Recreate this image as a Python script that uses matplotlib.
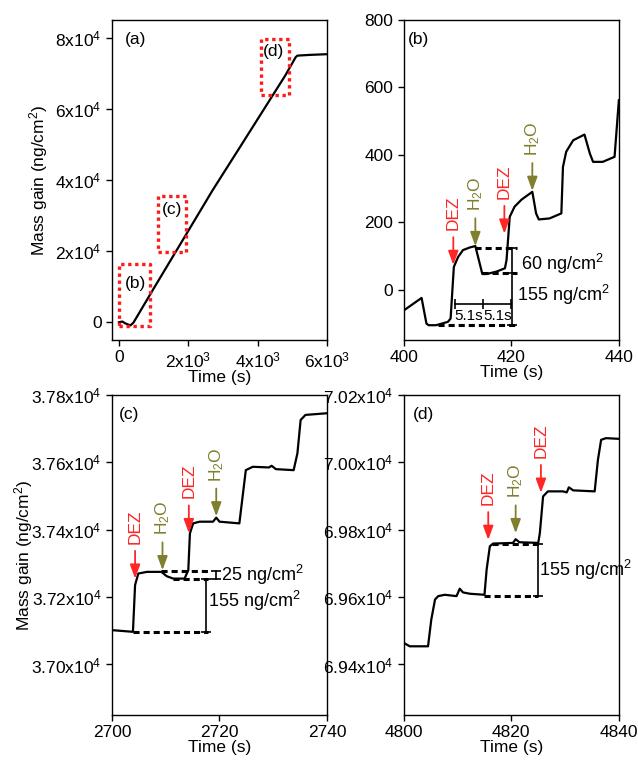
import numpy as np
import matplotlib.pyplot as plt

plt.rcParams['font.family'] = ['Liberation Sans', 'DejaVu Sans']
plt.rcParams['mathtext.fontset'] = 'custom'
plt.rcParams['mathtext.rm'] = 'Liberation Sans'
plt.rcParams['mathtext.it'] = 'Liberation Sans:italic'
plt.rcParams['mathtext.bf'] = 'Liberation Sans:bold'

RED = '#ff2626'
OLIVE = '#7f7f2e'

# ---- (a) whole deposition run
t_a = [0, 100, 180, 330, 420, 1000, 2000, 2700, 3500, 4800, 5100, 5150, 5500, 6000]
m_a = [0, 200, -300, -900, -100, 9440, 25700, 37100, 49400, 69450, 74600, 75000, 75200, 75400]
# zoom boxes in (a)
box_t0 = [10, 1134, 4105]
box_t1 = [905, 1934, 4914]
box_m0 = [-1100, 19800, 64000]
box_m1 = [16300, 35500, 79700]
box_lab = ['(b)', '(c)', '(d)']
box_lab_t = [486, 1534, 4457]
box_lab_m = [11000, 31800, 76100]

# ---- (b) 400-440 s
t_b = [400, 403.3, 404.2, 404.6, 406, 408.2, 408.7, 409.3, 410.1, 411, 412.3, 413.3,
       413.8, 414.6, 415.4, 417.2, 418.8, 419.1, 419.7, 420.6, 421.9, 423.9,
       424.6, 425.1, 427.1, 429.3, 429.6, 430.2, 431.5, 433.6, 434.6, 435.2,
       437, 439.2, 440]
m_b = [-62, -25, -101, -106, -106, -96, -86, 67, 97, 117, 125, 129,
       97, 46, 46, 53, 63, 87, 216, 246, 267, 290,
       226, 208, 211, 226, 364, 409, 443, 460, 404, 379,
       379, 394, 562]

# ---- (c) 2700-2740 s
t_c = [2700, 2703.9, 2704.3, 2704.9, 2706.5, 2709.2, 2710.2, 2711.4, 2713.5, 2714.2,
       2714.5, 2715.1, 2716.3, 2718.8, 2719.4, 2720, 2723.7, 2724.3, 2724.9, 2726.2,
       2729.2, 2729.7, 2730.5, 2733.8, 2734.5, 2735.1, 2736, 2740]
m_c = [37102, 37097, 37236, 37270, 37275, 37275, 37262, 37255, 37255, 37280,
       37389, 37419, 37424, 37424, 37436, 37424, 37419, 37498, 37577, 37587,
       37585, 37590, 37580, 37577, 37627, 37726, 37741, 37746]

# ---- (d) 4800-4840 s
t_d = [4800, 4801.1, 4804.5, 4805.1, 4805.8, 4806.4, 4807.6, 4809.8, 4810.4, 4811,
       4812.3, 4815, 4815.4, 4816, 4816.6, 4820.3, 4820.8, 4821.5, 4825, 4825.3,
       4825.9, 4826.8, 4829.6, 4830.3, 4830.7, 4831.5, 4835.5, 4836.1, 4836.7,
       4837.6, 4840]
m_d = [69464, 69454, 69454, 69533, 69593, 69603, 69607, 69603, 69625, 69614,
       69610, 69607, 69682, 69751, 69759, 69761, 69772, 69763, 69761, 69790,
       69899, 69914, 69914, 69911, 69926, 69917, 69914, 70007, 70067,
       70072, 70070]

# pulse markers: time, mass at arrow tip, precursor
pulse_b = [(409.2, 73, 'DEZ'), (413.3, 129, 'H2O'), (418.7, 166, 'DEZ'), (423.9, 293, 'H2O')]
pulse_c = [(2704.3, 37255, 'DEZ'), (2709.4, 37280, 'H2O'), (2714.3, 37390, 'DEZ'), (2719.4, 37440, 'H2O')]
pulse_d = [(4815.7, 69770, 'DEZ'), (4820.8, 69790, 'H2O'), (4825.5, 69910, 'DEZ')]

# ticks
xt_a = [0, 2000, 4000, 6000]
xtl_a = ['0', '2x10$^3$', '4x10$^3$', '6x10$^3$']
yt_a = [0, 20000, 40000, 60000, 80000]
ytl_a = ['0', '2x10$^4$', '4x10$^4$', '6x10$^4$', '8x10$^4$']
xt_b = [400, 420, 440]
yt_b = [0, 200, 400, 600, 800]
xt_c = [2700, 2720, 2740]
yt_c = [37000, 37200, 37400, 37600, 37800]
ytl_c = ['3.70x10$^4$', '3.72x10$^4$', '3.74x10$^4$', '3.76x10$^4$', '3.78x10$^4$']
xt_d = [4800, 4820, 4840]
yt_d = [69400, 69600, 69800, 70000, 70200]
ytl_d = ['6.94x10$^4$', '6.96x10$^4$', '6.98x10$^4$', '7.00x10$^4$', '7.02x10$^4$']


def style(ax):
    ax.tick_params(direction='out', length=4, width=1, labelsize=12.5)
    for s in ax.spines.values():
        s.set_linewidth(1)
    ax.set_xlabel('Time (s)', fontsize=12.5, labelpad=0)


def pulses(ax, plist):
    for (t, m, p) in plist:
        if p == 'DEZ':
            lab, col = 'DEZ', RED
        else:
            lab, col = 'H$_2$O', OLIVE
        ax.annotate(lab, xy=(t, m), xytext=(0, 25), textcoords='offset points',
                    rotation=90, ha='center', va='bottom', color=col, fontsize=12.5,
                    arrowprops=dict(arrowstyle='-|>,head_length=0.6,head_width=0.22',
                                    mutation_scale=14, color=col, lw=1.3,
                                    shrinkA=3, shrinkB=0))


def dash(ax, t0, t1, m):
    ax.plot([t0, t1], [m, m], color='k', lw=2.2, linestyle=(0, (2, 1.3)))


def bracket(ax, t, ms):
    ax.plot([t] * len(ms), ms, color='k', lw=1.2, marker='_', ms=7, mew=1.2)


fig = plt.figure(figsize=(6.38, 7.6), dpi=100)
axa = fig.add_axes([0.1755, 0.5526, 0.337, 0.421])
axb = fig.add_axes([0.633, 0.5526, 0.337, 0.421])
axc = fig.add_axes([0.1755, 0.0592, 0.337, 0.421])
axd = fig.add_axes([0.633, 0.0592, 0.337, 0.421])

# (a)
axa.plot(t_a, m_a, color='k', lw=1.6)
for i in range(len(box_lab)):
    axa.plot([box_t0[i], box_t1[i], box_t1[i], box_t0[i], box_t0[i]],
             [box_m0[i], box_m0[i], box_m1[i], box_m1[i], box_m0[i]],
             color='#ff1a1a', lw=2.4, linestyle=(0, (1, 1.1)))
    axa.text(box_lab_t[i], box_lab_m[i], box_lab[i], ha='center', va='center', fontsize=12.5)
axa.set_xlim(-200, 6000)
axa.set_ylim(-5000, 85000)
axa.set_xticks(xt_a)
axa.set_xticklabels(xtl_a)
axa.set_yticks(yt_a)
axa.set_yticklabels(ytl_a)
axa.set_ylabel('Mass gain (ng/cm$^2$)', fontsize=12.5)
axa.text(0.06, 0.94, '(a)', transform=axa.transAxes, fontsize=12.5, va='center')
style(axa)

# (b)
axb.plot(t_b, m_b, color='k', lw=1.6)
dash(axb, 406.4, 421, -106)
dash(axb, 413.3, 421, 122)
dash(axb, 414.6, 421, 50)
bracket(axb, 420.2, [-106, 50, 122])
axb.plot([409.5, 414.7, 420], [-42, -42, -42], color='k', lw=1.2, marker='|', ms=7, mew=1.2)
axb.text(412.1, -79, '5.1s', ha='center', va='center', fontsize=11)
axb.text(417.4, -79, '5.1s', ha='center', va='center', fontsize=11)
axb.text(421.8, 75, '60 ng/cm$^2$', ha='left', va='center', fontsize=13)
axb.text(421.0, -17, '155 ng/cm$^2$', ha='left', va='center', fontsize=13)
pulses(axb, pulse_b)
axb.set_xlim(400, 440)
axb.set_ylim(-150, 800)
axb.set_xticks(xt_b)
axb.set_yticks(yt_b)
axb.text(0.02, 0.94, '(b)', transform=axb.transAxes, fontsize=12.5, va='center')
style(axb)

# (c)
axc.plot(t_c, m_c, color='k', lw=1.6)
dash(axc, 2703.9, 2717.8, 37097)
dash(axc, 2709.2, 2717.8, 37278)
dash(axc, 2711.4, 2717.8, 37255)
bracket(axc, 2717.5, [37097, 37255])
bracket(axc, 2719.3, [37255, 37278])
axc.text(2720.3, 37266, '25 ng/cm$^2$', ha='left', va='center', fontsize=13)
axc.text(2717.9, 37190, '155 ng/cm$^2$', ha='left', va='center', fontsize=13)
pulses(axc, pulse_c)
axc.set_xlim(2700, 2740)
axc.set_ylim(36850, 37800)
axc.set_xticks(xt_c)
axc.set_yticks(yt_c)
axc.set_yticklabels(ytl_c)
axc.set_ylabel('Mass gain (ng/cm$^2$)', fontsize=12.5, labelpad=-3)
axc.text(0.03, 0.94, '(c)', transform=axc.transAxes, fontsize=12.5, va='center')
style(axc)

# (d)
axd.plot(t_d, m_d, color='k', lw=1.6)
dash(axd, 4815, 4825, 69603)
dash(axd, 4816.4, 4825.3, 69758)
bracket(axd, 4825, [69603, 69758])
axd.text(4825.2, 69680, '155 ng/cm$^2$', ha='left', va='center', fontsize=13)
pulses(axd, pulse_d)
axd.set_xlim(4800, 4840)
axd.set_ylim(69250, 70200)
axd.set_xticks(xt_d)
axd.set_yticks(yt_d)
axd.set_yticklabels(ytl_d)
axd.text(0.04, 0.94, '(d)', transform=axd.transAxes, fontsize=12.5, va='center')
style(axd)

fig.savefig('out.png', dpi=100)
